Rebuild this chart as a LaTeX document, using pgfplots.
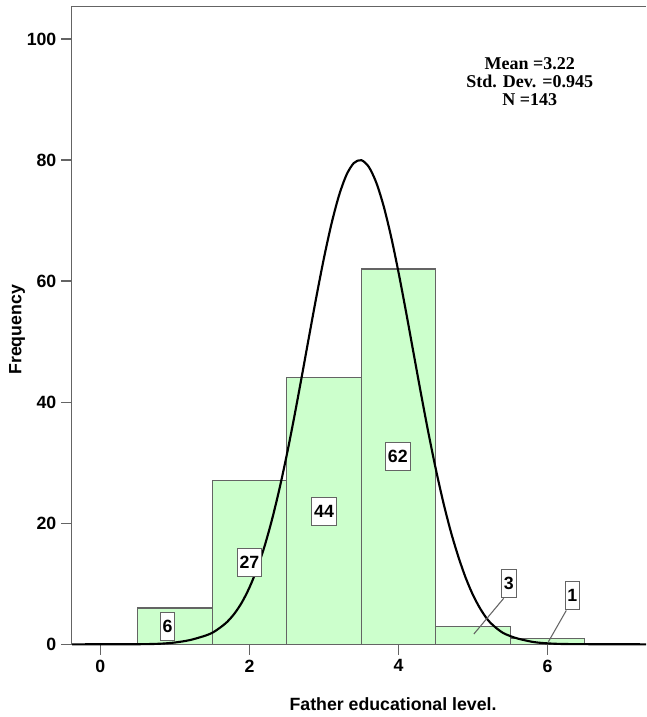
\documentclass[border=0pt]{standalone}
\usepackage{fontspec}
\setmainfont{Liberation Sans}
\newfontfamily\seriffont{Liberation Serif}
\usepackage{pgfplots}
\pgfplotsset{compat=1.18}

\definecolor{barfill}{RGB}{204,255,204}
\definecolor{edge}{RGB}{100,100,100}

\begin{document}
\begin{tikzpicture}[
  lbl/.style={draw=edge, line width=0.6pt, fill=white, font=\fontsize{13.3}{16}\selectfont\bfseries,
    inner xsep=1.8pt, inner ysep=0pt, minimum height=21pt}
]
\begin{axis}[
    name=ax,
    scale only axis,
    width=430.7pt,
    height=478.5pt,
    xmin=-0.384, xmax=7.32,
    ymin=0, ymax=105.4,
    axis x line*=box,
    axis y line*=left,
    axis line style={draw=edge, line width=1pt},
    xtick={0,2,4,6},
    ytick={0,20,40,60,80,100},
    tick align=outside,
    tick pos=left,
    major tick length=8pt,
    tick style={draw=edge, line width=1pt},
    ticklabel style={font=\fontsize{13.3}{16}\selectfont\bfseries},
    /pgf/number format/assume math mode=true,
    xlabel={Father educational level.},
    ylabel={Frequency},
    label style={font=\fontsize{13.3}{16}\selectfont\bfseries},
    xlabel style={at={(axis description cs:0.5595,-0.0936)}, anchor=center},
    ylabel style={at={(axis description cs:-0.0952,0.493)}, anchor=center, rotate=0},
    clip=false,
]
% histogram bars
\addplot[ybar, bar width=1, bar shift=0pt, fill=barfill, draw=edge, line width=0.8pt]
  coordinates {(1,6) (2,27) (3,44) (4,62) (5,3) (6,1)};

% normal curve
\addplot[black, line width=1.6pt, smooth, no markers] coordinates {
(-0.38,0) (0.5,0.02) (0.8,0.1) (1.0,0.3) (1.2,0.7) (1.4,1.4) (1.5,1.9) (1.6,2.7)
(1.7,3.7) (1.8,5.1) (1.9,6.96) (2.0,9.39) (2.1,12.42) (2.2,16.11) (2.3,20.50)
(2.4,25.57) (2.5,31.27) (2.6,37.51) (2.7,44.13) (2.8,50.90) (2.9,57.57) (3.0,63.86)
(3.1,69.46) (3.2,74.10) (3.3,77.51) (3.4,79.50) (3.5,79.97) (3.6,78.88) (3.7,76.30)
(3.8,72.38) (3.9,67.33) (4.0,61.41) (4.1,54.93) (4.2,48.18) (4.3,41.45) (4.4,34.96)
(4.5,28.92) (4.6,23.46) (4.7,18.66) (4.8,14.55) (4.9,11.0) (5.0,8.1) (5.1,5.8)
(5.2,4.0) (5.3,2.8) (5.4,1.9) (5.5,1.35) (5.6,0.95) (5.8,0.4) (6.0,0.16) (6.3,0.04) (7.32,0)
};

% bar labels
\node[lbl] at (axis cs:0.9,3) {6};
\node[lbl] at (axis cs:2.0,13.5) {27};
\node[lbl] at (axis cs:3.0,22) {44};
\node[lbl] at (axis cs:3.99,31) {62};
\draw[edge, line width=0.8pt] (axis cs:5.01,1.7) -- (axis cs:5.41,7.6);
\node[lbl] at (axis cs:5.48,10.1) {3};
\draw[edge, line width=0.8pt] (axis cs:6.01,0.43) -- (axis cs:6.25,5.6);
\node[lbl] at (axis cs:6.33,8.0) {1};

% statistics
\node[align=center, font=\seriffont\bfseries\fontsize{13.5}{13.5}\selectfont] at (axis cs:5.76,92.9)
  {Mean =3.22\\Std. Dev. =0.945\\N =143};
\end{axis}
\pgfresetboundingbox
\path ([shift={(-53.8pt,-54.5pt)}]ax.south west) rectangle ([shift={(0pt,4.7pt)}]ax.north east);
\end{tikzpicture}
\end{document}
